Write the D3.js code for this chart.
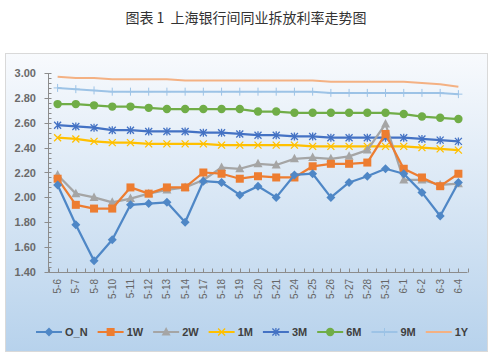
<!DOCTYPE html>
<html><head><meta charset="utf-8">
<script src="https://cdn.jsdelivr.net/npm/d3@7"></script>
<style>body{margin:0;background:#fff}svg{display:block}</style>
</head><body>
<svg id="c" width="493" height="358"></svg>
<script>
const categories = ["5-6","5-7","5-8","5-10","5-11","5-12","5-13","5-14","5-17","5-18","5-19","5-20","5-21","5-24","5-25","5-26","5-27","5-28","5-31","6-1","6-2","6-3","6-4"];
const seriesNames = ["O_N","1W","2W","1M","3M","6M","9M","1Y"];
const O_N = [2.10,1.78,1.49,1.66,1.94,1.95,1.96,1.80,2.13,2.12,2.02,2.09,2.00,2.18,2.19,2.00,2.12,2.17,2.23,2.19,2.04,1.85,2.12];
const W1  = [2.15,1.94,1.91,1.91,2.08,2.03,2.08,2.08,2.20,2.19,2.15,2.17,2.16,2.16,2.25,2.27,2.27,2.28,2.51,2.23,2.16,2.09,2.19];
const W2  = [2.18,2.03,2.00,1.96,1.99,2.03,2.06,2.08,2.14,2.24,2.23,2.27,2.26,2.31,2.32,2.31,2.33,2.38,2.59,2.14,2.14,2.10,2.11];
const M1  = [2.48,2.47,2.45,2.44,2.44,2.43,2.43,2.43,2.43,2.42,2.42,2.42,2.42,2.42,2.41,2.41,2.41,2.41,2.41,2.41,2.40,2.39,2.38];
const M3  = [2.58,2.57,2.56,2.54,2.54,2.53,2.53,2.53,2.52,2.52,2.51,2.50,2.50,2.49,2.49,2.48,2.48,2.48,2.48,2.48,2.47,2.46,2.45];
const M6  = [2.75,2.75,2.74,2.73,2.73,2.72,2.71,2.71,2.71,2.71,2.71,2.69,2.69,2.68,2.68,2.68,2.68,2.68,2.68,2.67,2.65,2.64,2.63];
const M9  = [2.88,2.87,2.86,2.85,2.85,2.85,2.85,2.85,2.85,2.85,2.85,2.85,2.85,2.85,2.85,2.84,2.84,2.84,2.84,2.84,2.84,2.84,2.83];
const Y1  = [2.97,2.96,2.96,2.95,2.95,2.95,2.95,2.94,2.94,2.94,2.94,2.94,2.94,2.94,2.94,2.93,2.93,2.93,2.93,2.93,2.92,2.91,2.89];
const yTicks = [1.40,1.60,1.80,2.00,2.20,2.40,2.60,2.80,3.00];
const titleText = "图表 1  上海银行间同业拆放利率走势图";

const values = [O_N,W1,W2,M1,M3,M6,M9,Y1];
const colors = ["#4f87c6","#ed7d31","#a5a5a5","#ffc000","#4472c4","#70ad47","#9dc3e6","#f4b183"];
const markers = ["diamond","square","triangle","x","asterisk","circle","plus","none"];

const svg = d3.select("#c");
svg.append("text").attr("x",246).attr("y",23).attr("text-anchor","middle")
  .style("white-space","pre")
  .attr("font-family","'Noto Sans CJK SC',sans-serif").attr("font-size",14).attr("fill","#333")
  .text(titleText);

const defs = svg.append("defs");
const g = defs.append("linearGradient").attr("id","bg").attr("x1",0).attr("y1",0).attr("x2",0).attr("y2",1);
g.append("stop").attr("offset","0%").attr("stop-color","#f8fafd");
g.append("stop").attr("offset","100%").attr("stop-color","#b7d2ec");
svg.append("rect").attr("x",5.5).attr("y",53.5).attr("width",482).attr("height",298)
  .attr("fill","url(#bg)").attr("stroke","#d9d9d9");

const x = d3.scaleBand().domain(categories).range([48.5,467.5]);
const cx = c => x(c)+x.bandwidth()/2;
const y = d3.scaleLinear().domain([1.4,3.0]).range([272,73]);

const axisColor="#8c8c8c";
// y axis
svg.append("line").attr("x1",48.5).attr("x2",48.5).attr("y1",y(3.0)).attr("y2",y(1.4)).attr("stroke",axisColor);
const minor = d3.range(1.4,3.0001,0.04);
svg.selectAll(".ymin").data(minor).join("line").attr("x1",48.5).attr("x2",51.5)
  .attr("y1",d=>Math.round(y(d))+0.5).attr("y2",d=>Math.round(y(d))+0.5).attr("stroke",axisColor);
svg.selectAll(".ymaj").data(yTicks).join("line").attr("x1",44.5).attr("x2",48.5)
  .attr("y1",d=>Math.round(y(d))+0.5).attr("y2",d=>Math.round(y(d))+0.5).attr("stroke",axisColor);
svg.selectAll(".ylab").data(yTicks).join("text").attr("x",36).attr("y",d=>y(d)+4)
  .attr("text-anchor","end").attr("font-family","Liberation Sans,Arial").attr("font-weight","bold")
  .attr("font-size",11).attr("fill","#6a6a6a").text(d=>d.toFixed(2));
// x axis
svg.append("line").attr("x1",48.5).attr("x2",467.5).attr("y1",272.5).attr("y2",272.5).attr("stroke",axisColor);
const xt = [];
categories.forEach(c=>{xt.push(x(c)); xt.push(cx(c));});
xt.push(467.5);
svg.selectAll(".xt").data(xt).join("line").attr("x1",d=>Math.round(d)+0.5).attr("x2",d=>Math.round(d)+0.5)
  .attr("y1",268.5).attr("y2",272.5).attr("stroke",axisColor);
svg.selectAll(".xlab").data(categories).join("text")
  .attr("transform",d=>`translate(${cx(d)+3.5},279) rotate(-90)`)
  .attr("text-anchor","end").attr("font-family","Liberation Sans,Arial")
  .attr("font-size",10).attr("fill","#666").text(d=>d);

function drawMarker(sel, type, color, cxp, cyp, s){
  if(type==="diamond") sel.append("path").attr("d",`M${cxp},${cyp-4.5}L${cxp+4.5},${cyp}L${cxp},${cyp+4.5}L${cxp-4.5},${cyp}Z`).attr("fill",color);
  else if(type==="square") sel.append("rect").attr("x",cxp-4).attr("y",cyp-4).attr("width",8).attr("height",8).attr("fill",color);
  else if(type==="triangle") sel.append("path").attr("d",`M${cxp},${cyp-5}L${cxp+4.5},${cyp+3.5}L${cxp-4.5},${cyp+3.5}Z`).attr("fill",color);
  else if(type==="circle") sel.append("circle").attr("cx",cxp).attr("cy",cyp).attr("r",4.2).attr("fill",color);
  else if(type==="x") sel.append("path").attr("d",`M${cxp-3.5},${cyp-3.5}L${cxp+3.5},${cyp+3.5}M${cxp-3.5},${cyp+3.5}L${cxp+3.5},${cyp-3.5}`).attr("stroke",color).attr("stroke-width",1.3);
  else if(type==="asterisk") sel.append("path").attr("d",`M${cxp-3.5},${cyp-3.5}L${cxp+3.5},${cyp+3.5}M${cxp-3.5},${cyp+3.5}L${cxp+3.5},${cyp-3.5}M${cxp},${cyp-4}L${cxp},${cyp+4}`).attr("stroke",color).attr("stroke-width",1.3);
  else if(type==="plus") sel.append("path").attr("d",`M${cxp-4},${cyp}L${cxp+4},${cyp}M${cxp},${cyp-4}L${cxp},${cyp+4}`).attr("stroke",color).attr("stroke-width",1);
}

const line = d3.line().x((d,i)=>cx(categories[i])).y(d=>y(d));
for(let s=values.length-1;s>=0;s--){
  const gs = svg.append("g");
  gs.append("path").attr("d",line(values[s])).attr("fill","none").attr("stroke",colors[s])
    .attr("stroke-width",s===6||s===7?2:2.25).attr("stroke-linejoin","round");
  values[s].forEach((v,i)=>drawMarker(gs,markers[s],colors[s],cx(categories[i]),y(v)));
}

// legend
const lg = svg.append("g");
let lx = 36;
seriesNames.forEach((n,i)=>{
  const ly = 332;
  lg.append("line").attr("x1",lx).attr("x2",lx+26).attr("y1",ly).attr("y2",ly).attr("stroke",colors[i]).attr("stroke-width",2);
  drawMarker(lg,markers[i],colors[i],lx+13,ly);
  const t = lg.append("text").attr("x",lx+29).attr("y",ly+4).attr("font-family","Liberation Sans,Arial")
    .attr("font-weight","bold").attr("font-size",11).attr("fill","#404040").text(n);
  lx += 29 + t.node().getComputedTextLength() + 10;
});
</script>
</body></html>
